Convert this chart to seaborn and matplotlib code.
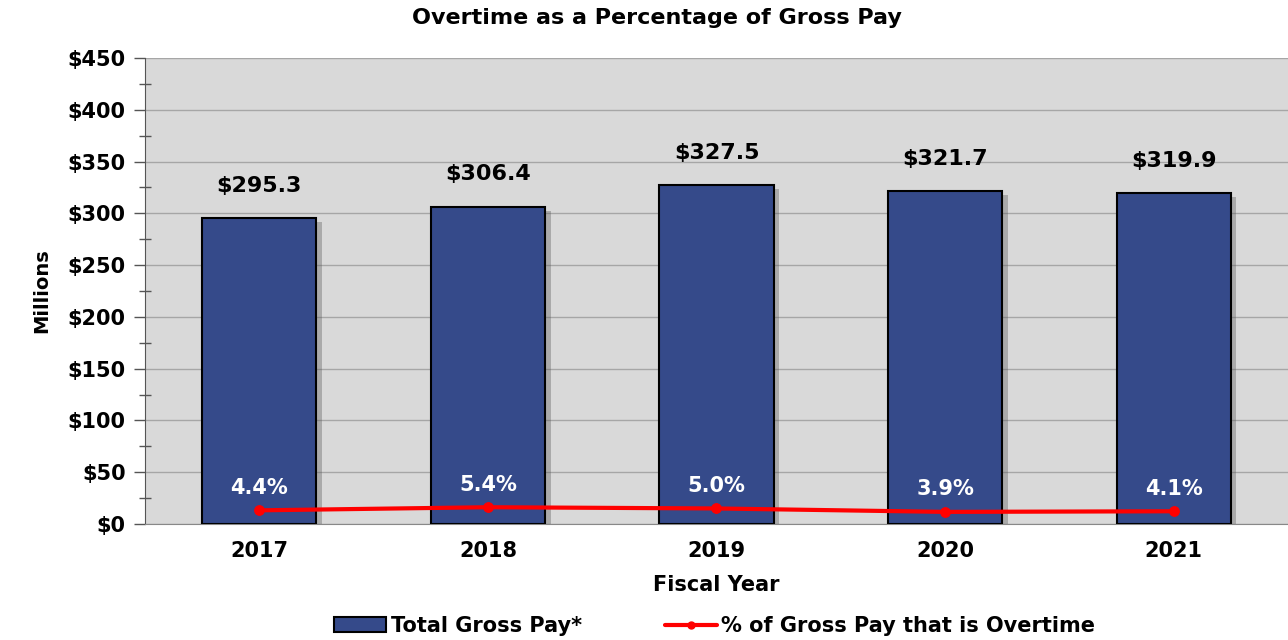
import matplotlib
matplotlib.use('Agg')

import matplotlib.pyplot as plt
import matplotlib.patheffects as pe
from matplotlib.ticker import MultipleLocator, FixedLocator
from matplotlib.patches import Patch
from matplotlib.lines import Line2D
import seaborn as sns
import numpy as np
import pandas as pd

years = ["2017", "2018", "2019", "2020", "2021"]
gross_pay = [295.3, 306.4, 327.5, 321.7, 319.9]
overtime_pct = [4.4, 5.4, 5.0, 3.9, 4.1]

bar_color = "#354A8A"
line_color = "#FF0000"
bg_color = "#D9D9D9"

sns.set_style("white")
plt.rcParams['font.family'] = ['DejaVu Sans']
plt.rcParams['text.color'] = 'black'
plt.rcParams['axes.labelcolor'] = 'black'
plt.rcParams['xtick.color'] = 'black'
plt.rcParams['ytick.color'] = 'black'

df = pd.DataFrame({"year": years, "gross": gross_pay, "pct": overtime_pct})

fig = plt.figure(figsize=(12.88, 6.4), dpi=100)
ax = fig.add_axes([145 / 1288, 1 - 524 / 640, 1 - 145 / 1288, (524 - 58) / 640])
ax.set_facecolor(bg_color)

sns.barplot(data=df, x="year", y="gross", color=bar_color, width=0.5,
            edgecolor="black", linewidth=1.5, saturation=1, ax=ax, zorder=3)
for patch in ax.patches:
    patch.set_path_effects([pe.SimplePatchShadow(offset=(4, -3), alpha=0.35,
                                                 shadow_rgbFace="#555555"),
                            pe.Normal()])

ax.set_ylim(0, 450)
ax.set_xlim(-0.5, 4.5)
ax.yaxis.set_major_locator(MultipleLocator(50))
ax.yaxis.set_minor_locator(MultipleLocator(25))
ax.set_yticklabels([f"${int(v)}" for v in ax.get_yticks()])
ax.grid(axis="y", which="major", color="#A6A6A6", linewidth=1, zorder=0)
ax.set_axisbelow(True)

ax.tick_params(axis="y", which="major", length=8, width=1, color="#555555",
               labelsize=15, pad=6)
ax.tick_params(axis="y", which="minor", length=8, width=1, color="#555555",
               direction="inout")
ax.xaxis.set_minor_locator(FixedLocator([0.5, 1.5, 2.5, 3.5]))
ax.tick_params(axis="x", which="major", length=0, labelsize=15, pad=12)
ax.tick_params(axis="x", which="minor", length=7, width=1, color="#555555")
for lbl in ax.get_xticklabels() + ax.get_yticklabels():
    lbl.set_fontweight("bold")

for side in ["right", "top"]:
    ax.spines[side].set_visible(False)
ax.spines["left"].set_color("#555555")
ax.spines["bottom"].set_color("#888888")

ax.set_xlabel("Fiscal Year", fontsize=15, fontweight="bold", labelpad=10)
ax.set_ylabel("Millions", fontsize=14, fontweight="bold", labelpad=12)

# bar value labels
for i, v in enumerate(gross_pay):
    ax.annotate(f"${v:.1f}", (i, v), xytext=(0, 16), textcoords="offset points",
                ha="center", va="bottom", fontsize=16, fontweight="bold")

# overtime percentage on a hidden secondary axis
ax2 = ax.twinx()
sns.lineplot(x=np.arange(len(years)), y=overtime_pct, ax=ax2, color=line_color,
             linewidth=3, marker="o", markersize=7, markeredgecolor=line_color,
             zorder=5)
ax2.set_ylim(0, 150)
ax2.set_yticks([])
for side in ax2.spines.values():
    side.set_visible(False)
for i, p in enumerate(overtime_pct):
    ax2.annotate(f"{p:.1f}%", (i, p), xytext=(0, 9), textcoords="offset points",
                 ha="center", va="bottom", fontsize=15, fontweight="bold",
                 color="white")

fig.text(0.51, 1 - 18 / 640, "Overtime as a Percentage of Gross Pay",
         ha="center", va="center", fontsize=16, fontweight="bold")

# legend
handles = [Patch(facecolor=bar_color, edgecolor="black", linewidth=1.5),
           Line2D([0], [0], color=line_color, linewidth=3, marker="o", markersize=5)]
fig.legend(handles, ["Total Gross Pay*", "% of Gross Pay that is Overtime"],
           loc="center", bbox_to_anchor=(0.555, 1 - 626 / 640), ncol=2,
           frameon=False, handlelength=2.5, handletextpad=0.2,
           columnspacing=4, prop={"weight": "bold", "size": 15})

fig.savefig("out.png", dpi=100)
